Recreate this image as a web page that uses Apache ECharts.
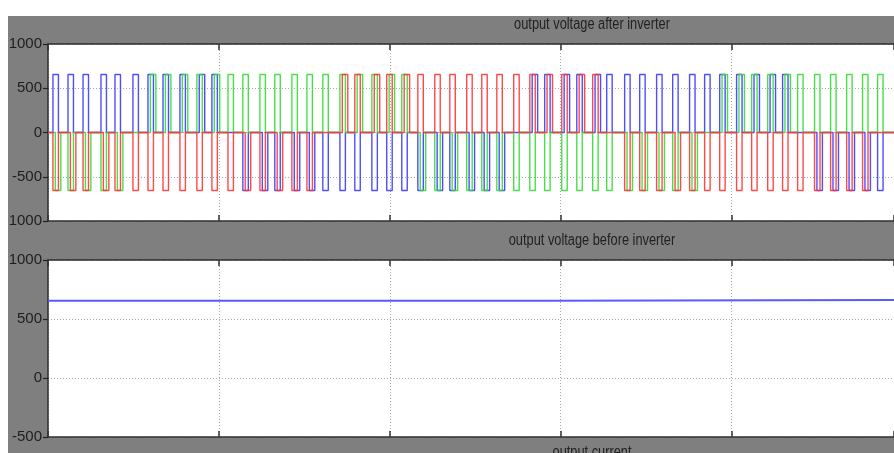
<!DOCTYPE html>
<html>
<head>
<meta charset="utf-8">
<script src="https://cdn.jsdelivr.net/npm/echarts@6/dist/echarts.min.js"></script>
<style>
  html, body { margin: 0; padding: 0; background: #fff; }
  #chart { width: 894px; height: 453px; }
</style>
</head>
<body>
<div id="chart"></div>
<script>
// time axis in ms, one grid division = 10 ms
const tEnd = 49.5;

// start time of each switching slot (ms)
const slotStart = [
  0.29, 1.17, 2.05, 3.10, 3.92, 4.97, 5.85, 6.73, 7.72, 8.71,
  9.59, 10.53, 11.40, 12.40, 13.27, 14.27, 15.15, 16.08, 17.08, 17.95,
  18.95, 19.82, 20.70, 21.64, 22.63, 23.51, 24.50, 25.38, 26.26, 27.25,
  28.19, 29.06, 30.06, 30.94, 31.87, 32.69, 33.74, 34.62, 35.61, 36.55,
  37.54, 38.42, 39.30, 40.29, 41.17, 42.11, 42.98, 43.86, 44.85, 45.79,
  46.73, 47.66, 48.54
];

// per slot: P / N = positive / negative pulse, p / n = same but a little later
// (where two phases overlap), . = no pulse
const phaseBlue  = 'PPPPPPPPPp' + 'P.NnNnnNNN' + 'NNNNnNnnn.' + 'pPpPpPPPPP' + 'PPPPppP.nn' + 'nnN';
const phaseGreen = 'nNnNn.pppP' + 'pPPPPPPPPp' + 'PpPnNnNNNN' + 'NNNNNNnnnN' + 'n.ppPPpPPP' + 'PPP';
const phaseRed   = 'NnNnNNNNNN' + 'NNnNnNN.pP' + 'pPpPPPPPPP' + 'PpPpP.NNNn' + 'NNNNNNNNNN' + 'NN.';

const pulseAmp = 655;     // V
const pulseWidth = 0.32;  // ms
const pulseDelay = 0.14;  // ms

// dc link voltage before the inverter
const dcTime = [0, 29.2, 29.2, tEnd];
const dcVolt = [655, 655, 662, 662];

const topTicks = [-1000, -500, 0, 500, 1000];
const bottomTicks = [-500, 0, 500, 1000];

const titles = ['output voltage after inverter', 'output voltage before inverter', 'output current'];

function pulseTrain(codes) {
  const pts = [[0, 0]];
  for (let i = 0; i < codes.length; i++) {
    const c = codes[i];
    if (c === '.') continue;
    const v = (c === 'P' || c === 'p') ? pulseAmp : -pulseAmp;
    const t0 = slotStart[i] + ((c === 'p' || c === 'n') ? pulseDelay : 0);
    const t1 = t0 + pulseWidth;
    pts.push([t0, 0], [t0, v], [t1, v], [t1, 0]);
  }
  pts.push([tEnd, 0]);
  return pts;
}

const FONT = '"Liberation Sans", Arial, sans-serif';
const frame = { color: '#2e2e2e', width: 1.5 };
const dotted = { color: '#a8a8a8', width: 1, type: [1, 2] };

function xAx(grid, pos, split) {
  return {
    gridIndex: grid, type: 'value', position: pos, min: 0, max: tEnd, interval: 10,
    axisLine: { show: true, onZero: false, lineStyle: frame },
    axisTick: { show: true, inside: true, length: 6, lineStyle: { color: '#333', width: 1.5 } },
    axisLabel: { show: false },
    splitLine: { show: split, lineStyle: dotted }
  };
}

function yAx(grid, ticks) {
  return {
    gridIndex: grid, type: 'value',
    min: ticks[0], max: ticks[ticks.length - 1], interval: 500,
    axisLine: { show: true, lineStyle: frame },
    axisTick: { show: true, length: 5, lineStyle: { color: '#222', width: 1.2 } },
    axisLabel: { color: '#1e1e1e', fontSize: 15, fontFamily: FONT, margin: 6, formatter: v => String(v) },
    splitLine: { show: true, lineStyle: dotted }
  };
}

function title(text, y, va) {
  return {
    type: 'text', x: 592, y: y, scaleX: 0.8,
    style: { text: text, align: 'center', verticalAlign: va, font: '16px ' + FONT, fill: '#222' }
  };
}

const chart = echarts.init(document.getElementById('chart'));
chart.setOption({
  animation: false,
  grid: [
    { left: 48, top: 44, width: 846, height: 177, outerBoundsMode: 'none', containLabel: false,
      show: true, backgroundColor: '#fff', borderWidth: 0 },
    { left: 48, top: 260, width: 846, height: 177, outerBoundsMode: 'none', containLabel: false,
      show: true, backgroundColor: '#fff', borderWidth: 0 }
  ],
  xAxis: [xAx(0, 'bottom', true), xAx(0, 'top', false), xAx(1, 'bottom', true), xAx(1, 'top', false)],
  yAxis: [yAx(0, topTicks), yAx(1, bottomTicks)],
  series: [
    { type: 'line', xAxisIndex: 0, yAxisIndex: 0, data: pulseTrain(phaseBlue), showSymbol: false,
      lineStyle: { color: '#3b3bff', width: 1.4, opacity: 0.9 } },
    { type: 'line', xAxisIndex: 0, yAxisIndex: 0, data: pulseTrain(phaseGreen), showSymbol: false,
      lineStyle: { color: '#35dc35', width: 1.4, opacity: 0.9 } },
    { type: 'line', xAxisIndex: 0, yAxisIndex: 0, data: pulseTrain(phaseRed), showSymbol: false,
      lineStyle: { color: '#ff3535', width: 1.4, opacity: 0.9 } },
    { type: 'line', xAxisIndex: 2, yAxisIndex: 1, data: dcTime.map((t, i) => [t, dcVolt[i]]), showSymbol: false,
      lineStyle: { color: '#5a5aff', width: 2 } }
  ],
  graphic: [
    { type: 'rect', z: -10, shape: { x: 8, y: 16, width: 886, height: 437 }, style: { fill: '#7f7f7f' } },
    { type: 'rect', z: 100, shape: { x: 0, y: 0, width: 8, height: 453 }, style: { fill: '#fff' } },
    title(titles[0], 25, 'middle'),
    title(titles[1], 241, 'middle'),
    title(titles[2], 445, 'top')
  ]
});
</script>
</body>
</html>
